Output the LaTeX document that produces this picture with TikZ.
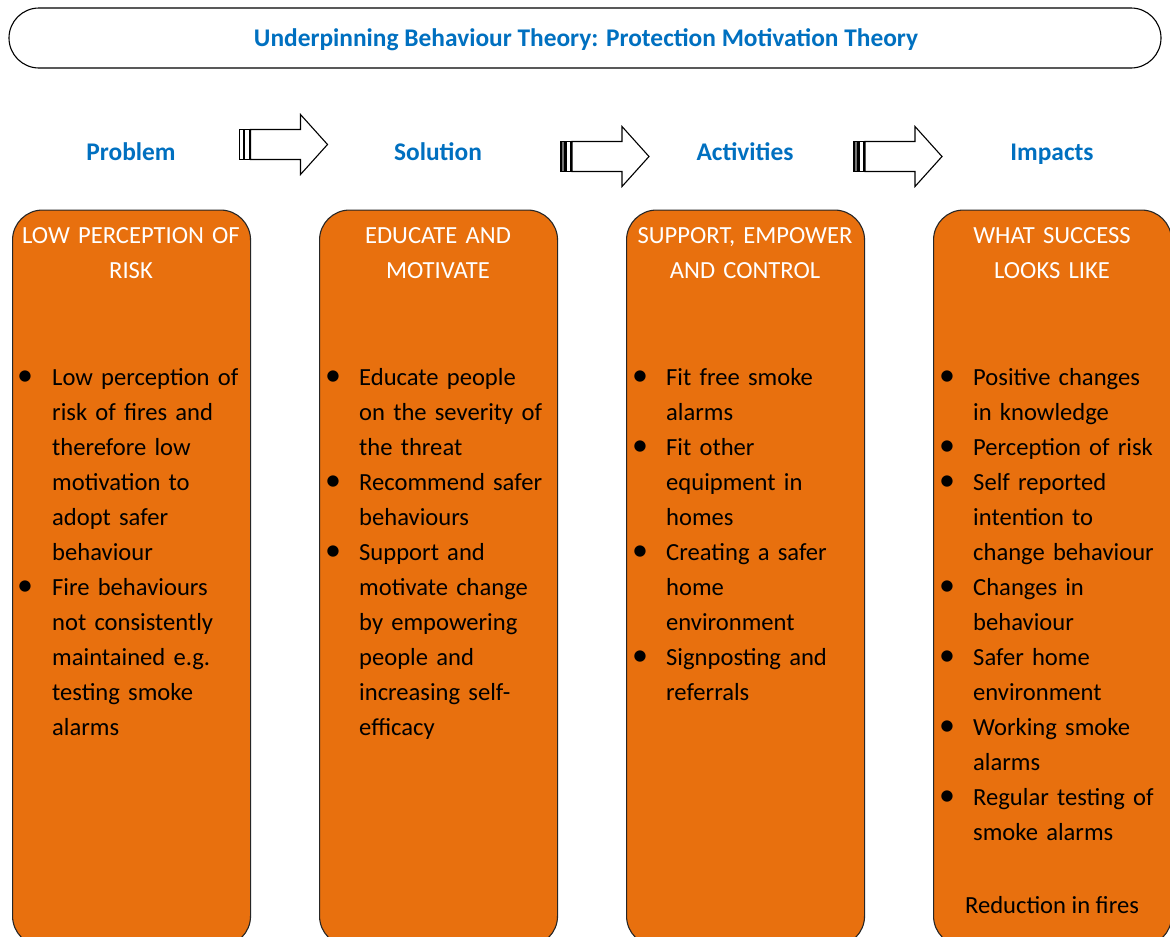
\documentclass[tikz,border=0pt]{standalone}
\usepackage{fontspec}
\setmainfont{Carlito}
\definecolor{boxorange}{HTML}{E8700E}
\definecolor{titleblue}{HTML}{0070C0}
\newcommand\bodyfont{\fontsize{24.6}{35}\selectfont}
\newcommand\stagefont{\fontsize{25.4}{35}\selectfont\bfseries}
\newcommand\bigbullet{\scalebox{1.3}{•}}
\newcommand\blockarrow[4]{% #1 name, #2 x0, #3 y centre, #4 bar fill
  \coordinate (#1) at (#2,#3);
  \draw[arrowline, fill=white] (#2+11,#3-15) -- (#2+61,#3-15) -- (#2+61,#3-30)
     -- (#2+88,#3) -- (#2+61,#3+30) -- (#2+61,#3+15) -- (#2+11,#3+15) -- cycle;
  \draw[arrowline, fill=#4] (#2,#3-15) rectangle (#2+4,#3+15);
  \draw[arrowline, fill=white] (#2+5,#3-15) rectangle (#2+10,#3+15);
}
\begin{document}
\begin{tikzpicture}[x=1pt,y=-1pt,
  box/.style={draw=black!85, line width=1.1pt, fill=boxorange, rounded corners=30pt,
    minimum width=238pt, minimum height=736pt, inner sep=0pt, anchor=north west},
  banner/.style={draw=black, line width=1.1pt, rounded corners=30pt, fill=white,
    minimum width=1152pt, minimum height=60pt, inner sep=0pt},
  boxhead/.style={text=white, font=\bodyfont, text width=232pt, align=center,
    anchor=base, inner sep=0pt},
  itemtext/.style={font=\bodyfont, text width=205pt, align=left, anchor=base west,
    inner sep=0pt},
  bul/.style={font=\bodyfont, anchor=base, inner sep=0pt},
  stage/.style={font=\stagefont, text=titleblue, anchor=base, inner sep=0pt},
  arrowline/.style={draw=black, line width=1.1pt, line join=miter}]
\useasboundingbox (0,0) rectangle (1170,937);
\clip (0,0) rectangle (1170,937);
\fill[white] (0,0) rectangle (1170,937);

% title banner
\node[banner] (banner) at (585,38) {};
\node[stage] (title) at (586,46.5) {Underpinning Behaviour Theory: Protection Motivation Theory};

% stage headers
\node[stage] (hprob) at (131,160) {Problem};
\node[stage] (hsol) at (438,160) {Solution};
\node[stage] (hact) at (745,160) {Activities};
\node[stage] (himp) at (1052,160) {Impacts};

% block arrows
\blockarrow{a1}{239.5}{144.5}{white}
\blockarrow{a2}{561}{156.5}{black!55}
\blockarrow{a3}{854}{156.5}{black!55}

% boxes
\node[box] (b1) at (12,209.5) {};
\node[box] (b2) at (319,209.5) {};
\node[box] (b3) at (626,209.5) {};
\node[box] (b4) at (933,209.5) {};

% box headings
\node[boxhead] (t1) at (131,243.5) {LOW PERCEPTION OF\\RISK};
\node[boxhead] (t2) at (438,243.5) {EDUCATE AND\\MOTIVATE};
\node[boxhead] (t3) at (745,243.5) {SUPPORT, EMPOWER\\AND CONTROL};
\node[boxhead] (t4) at (1052,243.5) {WHAT SUCCESS\\LOOKS LIKE};

% column 1
\node[bul] (p1b) at (25,385) {\bigbullet};
\node[itemtext] (p1) at (52,385) {Low perception of\\risk of fires and\\therefore low\\motivation to\\adopt safer\\behaviour};
\node[bul] (p2b) at (25,595) {\bigbullet};
\node[itemtext] (p2) at (52,595) {Fire behaviours\\not consistently\\maintained e.g.\\testing smoke\\alarms};

% column 2
\node[bul] (s1b) at (333,385) {\bigbullet};
\node[itemtext] (s1) at (359,385) {Educate people\\on the severity of\\the threat};
\node[bul] (s2b) at (333,490) {\bigbullet};
\node[itemtext] (s2) at (359,490) {Recommend safer\\behaviours};
\node[bul] (s3b) at (333,560) {\bigbullet};
\node[itemtext] (s3) at (359,560) {Support and\\motivate change\\by empowering\\people and\\increasing self-\\efficacy};

% column 3
\node[bul] (c1b) at (640,385) {\bigbullet};
\node[itemtext] (c1) at (666,385) {Fit free smoke\\alarms};
\node[bul] (c2b) at (640,455) {\bigbullet};
\node[itemtext] (c2) at (666,455) {Fit other\\equipment in\\homes};
\node[bul] (c3b) at (640,560) {\bigbullet};
\node[itemtext] (c3) at (666,560) {Creating a safer\\home\\environment};
\node[bul] (c4b) at (640,665) {\bigbullet};
\node[itemtext] (c4) at (666,665) {Signposting and\\referrals};

% column 4
\node[bul] (i1b) at (947,385) {\bigbullet};
\node[itemtext] (i1) at (973,385) {Positive changes\\in knowledge};
\node[bul] (i2b) at (947,455) {\bigbullet};
\node[itemtext] (i2) at (973,455) {Perception of risk};
\node[bul] (i3b) at (947,490) {\bigbullet};
\node[itemtext] (i3) at (973,490) {Self reported\\intention to\\change behaviour};
\node[bul] (i4b) at (947,595) {\bigbullet};
\node[itemtext] (i4) at (973,595) {Changes in\\behaviour};
\node[bul] (i5b) at (947,665) {\bigbullet};
\node[itemtext] (i5) at (973,665) {Safer home\\environment};
\node[bul] (i6b) at (947,735) {\bigbullet};
\node[itemtext] (i6) at (973,735) {Working smoke\\alarms};
\node[bul] (i7b) at (947,805) {\bigbullet};
\node[itemtext] (i7) at (973,805) {Regular testing of\\smoke alarms};
\node[bul] (i8) at (1052,913) {Reduction in fires};
\end{tikzpicture}
\end{document}
